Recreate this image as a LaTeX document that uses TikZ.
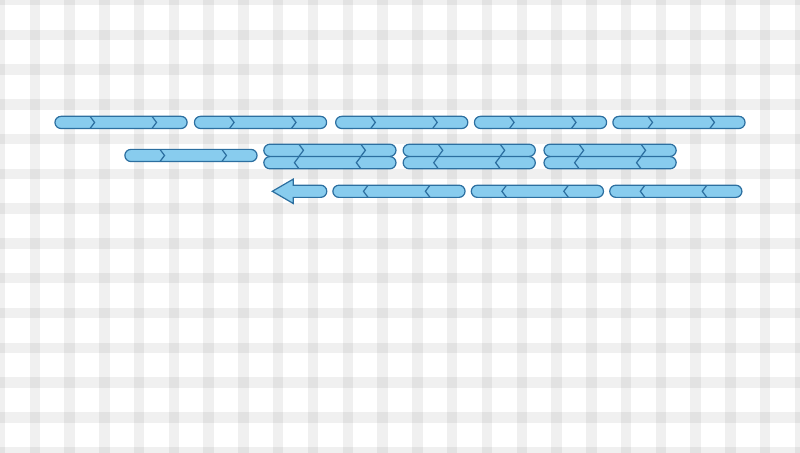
\documentclass[tikz,border=0pt]{standalone}
\usetikzlibrary{shapes.misc}
\definecolor{readfill}{HTML}{88CCEE}
\definecolor{readline}{HTML}{2C6FA0}
\tikzset{gridline/.style={black, opacity=0.06, line width=0.3cm},
  read/.style={rounded rectangle, draw=readline, fill=readfill, line width=1pt,
    minimum width=3.8cm, minimum height=0.35cm, inner sep=0pt},
  chev/.style={readline, line width=1pt},
  fwd/.style={read, path picture={
      \draw[chev] ([shift={(0.99,0.2)}]path picture bounding box.west) -- ([shift={(1.14,0)}]path picture bounding box.west) -- ([shift={(0.99,-0.2)}]path picture bounding box.west);
      \draw[chev] ([shift={(2.77,0.2)}]path picture bounding box.west) -- ([shift={(2.92,0)}]path picture bounding box.west) -- ([shift={(2.77,-0.2)}]path picture bounding box.west);}},
  rev/.style={read, path picture={
      \draw[chev] ([shift={(-0.99,0.2)}]path picture bounding box.east) -- ([shift={(-1.14,0)}]path picture bounding box.east) -- ([shift={(-0.99,-0.2)}]path picture bounding box.east);
      \draw[chev] ([shift={(-2.77,0.2)}]path picture bounding box.east) -- ([shift={(-2.92,0)}]path picture bounding box.east) -- ([shift={(-2.77,-0.2)}]path picture bounding box.east);}}
}
\begin{document}
\begin{tikzpicture}
    \useasboundingbox (0,0) rectangle (23,13);
    \foreach \x in {0,...,23} \draw[gridline] (\x,-1) -- (\x,14);
    \foreach \y in {0,...,13} \draw[gridline] (-1,\y) -- (24,\y);
    % first row
    \node[fwd] (r-1-1) at (3.48,9.48) {};
    \node[fwd] (r-1-2) at (7.49,9.48) {};
    \node[fwd] (r-1-3) at (11.55,9.48) {};
    \node[fwd] (r-1-4) at (15.54,9.48) {};
    \node[fwd] (r-1-5) at (19.52,9.48) {};
    % second row
    \node[fwd] (r-2-1) at (5.49,8.53) {};
    \node[fwd] (r-2-2) at (9.485,8.678) {};
    \node[rev] (s-2-2) at (9.485,8.322) {};
    \node[fwd] (r-2-3) at (13.49,8.678) {};
    \node[rev] (s-2-3) at (13.49,8.322) {};
    \node[fwd] (r-2-4) at (17.54,8.678) {};
    \node[rev] (s-2-4) at (17.54,8.322) {};
    % third row
    \coordinate (tip) at (7.83,7.5);
    \draw[readline, fill=readfill, line width=1pt] (tip) -- ++(0.6,0.35) -- ++(0,-0.175) -- (9.22,7.675)
      arc[start angle=90, end angle=-90, radius=0.175] -- (8.43,7.325) -- ++(0,-0.175) -- cycle;
    \node[rev] (r-3-2) at (11.47,7.5) {};
    \node[rev] (r-3-3) at (15.45,7.5) {};
    \node[rev] (r-3-4) at (19.43,7.5) {};
\end{tikzpicture}
\end{document}
